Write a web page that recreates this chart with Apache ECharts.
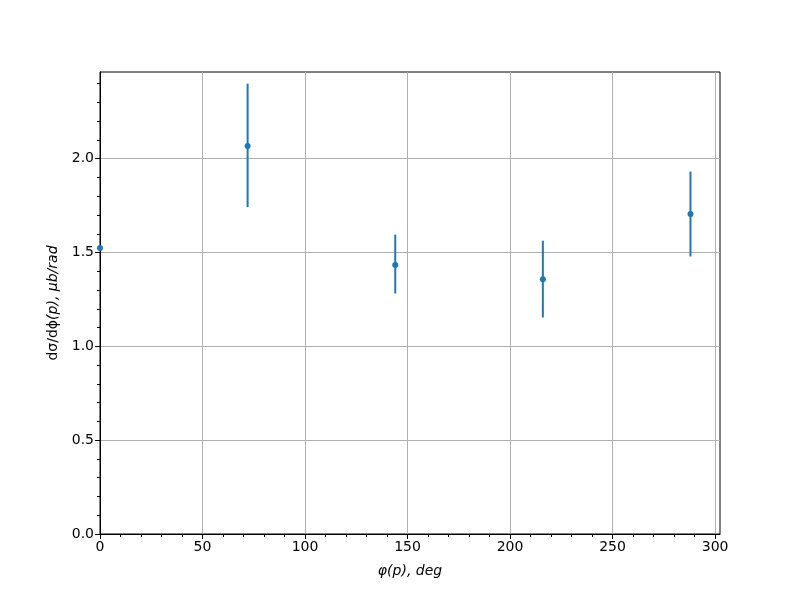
<!DOCTYPE html>
<html><head><meta charset="utf-8">
<script src="https://cdn.jsdelivr.net/npm/echarts@6/dist/echarts.min.js"></script>
<style>html,body{margin:0;padding:0;background:#fff}#c{width:800px;height:600px}</style>
</head><body><div id="c"></div>
<script>
const phi = [0, 72, 144, 216, 288];
const xsec = [1.524, 2.068, 1.433, 1.358, 1.705];
const errLow = [1.524, 1.742, 1.282, 1.154, 1.479];
const errHigh = [1.524, 2.400, 1.595, 1.563, 1.931];
const xTicks = [0, 50, 100, 150, 200, 250, 300];
const yTicks = [0, 0.5, 1.0, 1.5, 2.0];

const color = '#1f77b4';
const chart = echarts.init(document.getElementById('c'));
const font = 'DejaVu Sans';
chart.setOption({
  animation: false,
  backgroundColor: '#fff',
  grid: {left: 100, right: 80, top: 72, bottom: 66, show: true, borderColor: '#000', borderWidth: 1, backgroundColor: 'transparent'},
  xAxis: {
    type: 'value', min: 0, max: 302.4,
    name: 'φ(p), deg', nameLocation: 'middle', nameGap: 30,
    nameTextStyle: {fontFamily: font, fontSize: 14, fontStyle: 'italic', color: '#000'},
    axisLine: {show: true, onZero: false, lineStyle: {color: '#000', width: 1}},
    axisTick: {show: true, length: 5, customValues: xTicks, lineStyle: {color: '#000'}},
    minorTick: {show: true, splitNumber: 5, length: 3, lineStyle: {color: '#000'}},
    axisLabel: {customValues: xTicks, fontFamily: font, fontSize: 14, color: '#000', margin: 6,
      formatter: v => String(v)},
    splitLine: {show: true, lineStyle: {color: '#b0b0b0', width: 1}},
    interval: 50
  },
  yAxis: {
    type: 'value', min: 0, max: 2.462, interval: 0.5,
    name: '{u|dσ/dϕ}{i|(p), μb/rad}', nameLocation: 'middle', nameGap: 40,
    nameTextStyle: {fontFamily: font, fontSize: 14, color: '#000',
      rich: {u: {fontFamily: font, fontSize: 14, color: '#000'}, i: {fontFamily: font, fontSize: 14, fontStyle: 'italic', color: '#000'}}},
    axisLine: {show: true, onZero: false, lineStyle: {color: '#000', width: 1}},
    axisTick: {show: true, length: 5, customValues: yTicks, lineStyle: {color: '#000'}},
    minorTick: {show: true, splitNumber: 5, length: 3, lineStyle: {color: '#000'}},
    axisLabel: {customValues: yTicks, fontFamily: font, fontSize: 14, color: '#000', margin: 6,
      formatter: v => v.toFixed(1)},
    splitLine: {show: true, lineStyle: {color: '#b0b0b0', width: 1}}
  },
  series: [
    {
      type: 'custom',
      data: phi.map((x, i) => [x, errLow[i], errHigh[i]]),
      renderItem: (params, api) => {
        const a = api.coord([api.value(0), api.value(1)]);
        const b = api.coord([api.value(0), api.value(2)]);
        return {type: 'line', shape: {x1: a[0], y1: a[1], x2: b[0], y2: b[1]},
          style: {stroke: color, lineWidth: 2}};
      },
      clip: false, z: 3
    },
    {
      type: 'scatter', symbol: 'circle', symbolSize: 6,
      itemStyle: {color: color, opacity: 1},
      data: phi.map((x, i) => [x, xsec[i]]), z: 4, clip: false
    }
  ]
});
</script></body></html>
